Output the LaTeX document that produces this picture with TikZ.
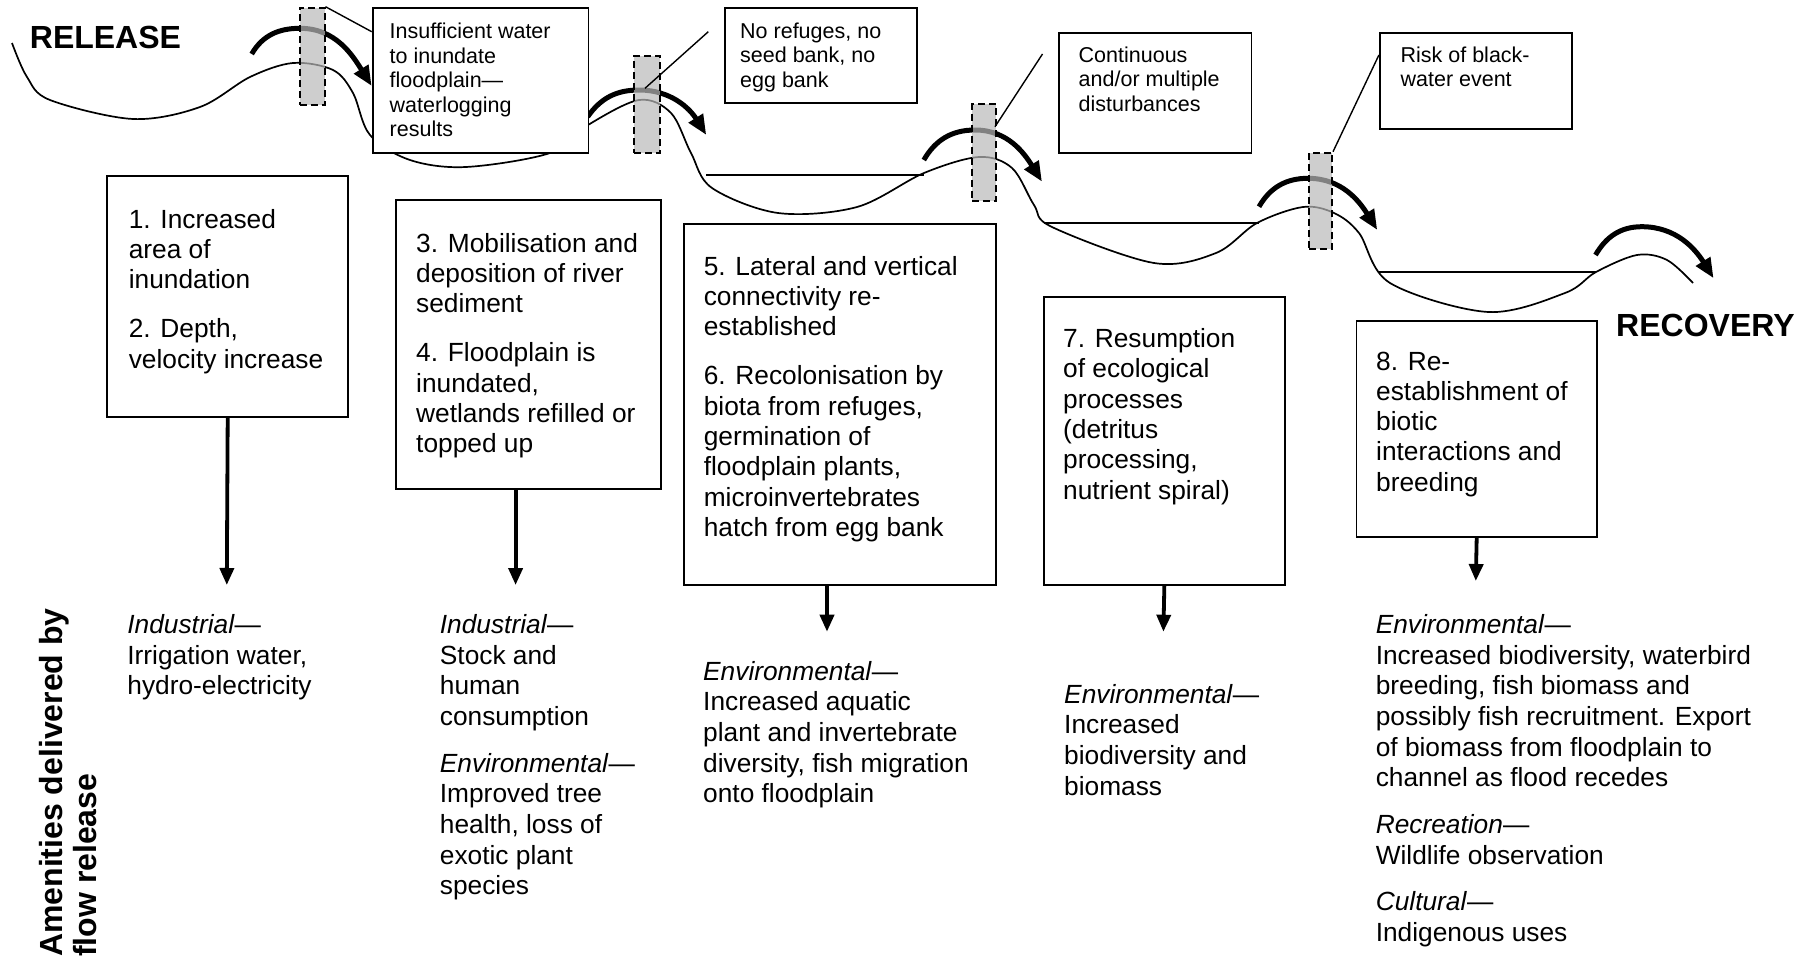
\documentclass[tikz,border=0pt]{standalone}
\usepackage{fontspec}
\setmainfont{Liberation Sans}
\usetikzlibrary{arrows.meta}
\newcommand{\bigtxt}{\fontsize{26.3}{30.3}\selectfont}
\newcommand{\amtxt}{\fontsize{26.3}{30.7}\selectfont}
\newcommand{\smalltxt}{\fontsize{21.5}{24.5}\selectfont}
\newcommand{\headtxt}{\bfseries\fontsize{32}{34}\selectfont}
\begin{document}
\begin{tikzpicture}[x=1pt,y=-1pt,
  frame/.style={draw, line width=1.8pt, fill=white, inner sep=0pt, anchor=north west},
  gate/.style={draw, line width=2pt, dash pattern=on 7pt off 4pt, fill=gray!55, fill opacity=0.7, inner sep=0pt, anchor=north west},
  txt/.style={inner sep=0pt, anchor=base west},
  river/.style={line width=1.7pt},
  level/.style={line width=2pt},
  flow/.style={line width=5pt, -{Triangle[length=20pt,width=16pt]}},
  drop/.style={line width=3.8pt, -{Triangle[length=17pt,width=14pt]}},
  callout/.style={line width=1.4pt}
]
\useasboundingbox (0,0) rectangle (1805,961);

% river bed profile, falling step by step from release to recovery
\draw[river] plot[smooth, tension=0.55] coordinates {
  (12,43) (27,77) (50,100) (133,119) (200,107) (250,77) (293,63) (333,70)
  (353,93) (370,135) (410,160) (466,167) (550,153) (588,125) (639,100)
  (671,113) (691,153) (712,188) (778,213) (857,207) (924,173) (979,157)
  (1012,168) (1034,205) (1052,227) (1154,263) (1216,253) (1257,223)
  (1303,207) (1334,213) (1359,233) (1390,283) (1488,312) (1565,293)
  (1596,272) (1637,255) (1667,260) (1693,283)};

% water levels held in the pools
\draw[level] (706.3,175) -- (923.8,175);
\draw[level] (1043.6,223.3) -- (1259,223.3);
\draw[level] (1378.9,271.7) -- (1595.5,271.7);

% flow passing over each step
\draw[flow] (251.7,54) to[out=60,in=180] (300,28.3) to[out=0,in=122] (371.7,86);
\draw[flow] (587.7,116.7) to[out=55,in=180] (639,90) to[out=0,in=122] (706.3,135);
\draw[flow] (923.8,160) to[out=60,in=180] (975,130) to[out=0,in=122] (1042,181.7);
\draw[flow] (1259,206.7) to[out=60,in=180] (1308,178.3) to[out=0,in=122] (1377.3,230);
\draw[flow] (1595.5,255) to[out=60,in=180] (1641.7,226.7) to[out=0,in=122] (1713.6,278.3);

% barriers
\node[gate, minimum width=25pt, minimum height=97.3pt] (g1) at (298.5,6.7) {};
\node[gate, minimum width=26pt, minimum height=96.7pt] (g2) at (633,55) {};
\node[gate, minimum width=24pt, minimum height=96.7pt] (g3) at (971,103.3) {};
\node[gate, minimum width=23pt, minimum height=96.6pt] (g4) at (1308,151.7) {};

% threat boxes
\node[frame, minimum width=215.8pt, minimum height=144.4pt] (s1) at (371.7,7.3) {};
\node[frame, minimum width=192pt, minimum height=95pt] (s2) at (724,6.7) {};
\node[frame, minimum width=192.5pt, minimum height=120pt] (s3) at (1058,31.7) {};
\node[frame, minimum width=192.5pt, minimum height=96pt] (s4) at (1378.9,31.7) {};

\node[txt, font=\smalltxt] (s1t) at (389.5,38.5) {\parbox[t]{200pt}{Insufficient water\\to inundate\\floodplain—\\waterlogging\\results}};
\node[txt, font=\smalltxt] (s2t) at (740,38) {\parbox[t]{180pt}{No refuges, no\\seed bank, no\\egg bank}};
\node[txt, font=\smalltxt] (s3t) at (1078.5,62.5) {\parbox[t]{180pt}{Continuous\\and/or multiple\\disturbances}};
\node[txt, font=\smalltxt] (s4t) at (1400.4,62.5) {\parbox[t]{180pt}{Risk of black-\\water event}};

% callouts from barriers to threats
\coordinate (k1) at (371.7,31.7);
\coordinate (k2a) at (645,88.3);
\coordinate (k2) at (708.3,31.7);
\coordinate (k3a) at (995,126.7);
\coordinate (k3) at (1042.5,54);
\coordinate (k4) at (1378.9,55);
\draw[callout] (g1.north east) -- (k1);
\draw[callout] (k2a) -- (k2);
\draw[callout] (k3a) -- (k3);
\draw[callout] (g4.north east) -- (k4);

% end labels
\node[txt, font=\headtxt] (rel) at (29.7,48) {RELEASE};
\node[txt, font=\headtxt] (rec) at (1616,336) {RECOVERY};

% response boxes
\node[frame, minimum width=241pt, minimum height=241pt] (bA) at (106.3,175) {};
\node[frame, minimum width=264.8pt, minimum height=289pt] (bB) at (395,199.3) {};
\node[frame, minimum width=312.4pt, minimum height=360.7pt] (bC) at (683,223.3) {};
\node[frame, minimum width=241.1pt, minimum height=288pt] (bD) at (1042.9,296) {};
\node[frame, minimum width=240.4pt, minimum height=216pt] (bE) at (1355.6,320) {};

\node[txt, font=\bigtxt] (tA) at (128.6,228) {\parbox[t]{230pt}{1. Increased\\area of\\inundation\\[19pt]2. Depth,\\velocity increase}};
\node[txt, font=\bigtxt] (tB) at (416,252) {\parbox[t]{250pt}{3. Mobilisation and\\deposition of river\\sediment\\[19pt]4. Floodplain is\\inundated,\\wetlands refilled or\\topped up}};
\node[txt, font=\bigtxt] (tC) at (703.6,275) {\parbox[t]{300pt}{5. Lateral and vertical\\connectivity re-\\established\\[19pt]6. Recolonisation by\\biota from refuges,\\germination of\\floodplain plants,\\microinvertebrates\\hatch from egg bank}};
\node[txt, font=\bigtxt] (tD) at (1063,347.5) {\parbox[t]{230pt}{7. Resumption\\of ecological\\processes\\(detritus\\processing,\\nutrient spiral)}};
\node[txt, font=\bigtxt] (tE) at (1376,370) {\parbox[t]{230pt}{8. Re-\\establishment of\\biotic\\interactions and\\breeding}};

% arrows down to the amenities
\coordinate (eA) at (226.8,585);
\coordinate (eB) at (515.6,585);
\coordinate (eC) at (827,631.7);
\coordinate (eD) at (1163.4,631.7);
\coordinate (eE) at (1475.8,581);
\draw[drop] (bA.south) -- (eA);
\draw[drop] (eB |- bB.south) -- (eB);
\draw[drop] (eC |- bC.south) -- (eC);
\draw[drop] (bD.south) -- (eD);
\draw[drop] (bE.south) -- (eE);

% amenities
\node[txt, font=\headtxt, rotate=90] (amen) at (62,957) {\parbox[t]{400pt}{Amenities delivered by\\flow release}};
\node[txt, font=\amtxt] (aA) at (127.2,633.3) {\parbox[t]{250pt}{\textit{Industrial}—\\Irrigation water,\\hydro-electricity}};
\node[txt, font=\amtxt] (aB) at (439.7,633.3) {\parbox[t]{250pt}{\textit{Industrial}—\\Stock and\\human\\consumption\\[16pt]\textit{Environmental}—\\Improved tree\\health, loss of\\exotic plant\\species}};
\node[txt, font=\amtxt] (aC) at (703,680) {\parbox[t]{300pt}{\textit{Environmental}—\\Increased aquatic\\plant and invertebrate\\diversity, fish migration\\onto floodplain}};
\node[txt, font=\amtxt] (aD) at (1064,703) {\parbox[t]{250pt}{\textit{Environmental}—\\Increased\\biodiversity and\\biomass}};
\node[txt, font=\amtxt] (aE) at (1375.6,633.3) {\parbox[t]{420pt}{\textit{Environmental}—\\Increased biodiversity, waterbird\\breeding, fish biomass and\\possibly fish recruitment. Export\\of biomass from floodplain to\\channel as flood recedes\\[16pt]\textit{Recreation}—\\Wildlife observation\\[16pt]\textit{Cultural}—\\Indigenous uses}};
\end{tikzpicture}
\end{document}
